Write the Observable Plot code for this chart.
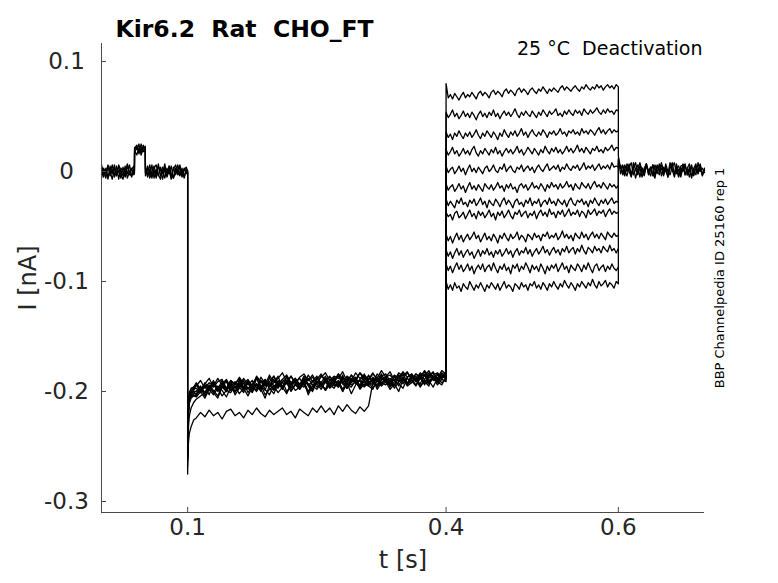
<!DOCTYPE html>
<html><head><meta charset="utf-8">
<script src="https://cdn.jsdelivr.net/npm/d3@7"></script>
<script src="https://cdn.jsdelivr.net/npm/@observablehq/plot@0.6"></script>
<style>body{margin:0;background:#fff}</style>
</head><body><div id="chart"></div>
<script>
// ---- data (times in ms, currents in pA) ----
const xTicks = [0.1, 0.4, 0.6];
const yTicks = [-0.3, -0.2, -0.1, 0, 0.1];
const xDomain = [0, 0.7];
const yDomain = [-0.31, 0.1164];

const preTimesMs = [0,2.5,5,7.5,10,12.5,15,17.5,20,22.5,25,27.5,30,32.5,35,37.5,
  38.2,38.4, 41,43.5,46,48.5, 50.8,51,
  53.5,56,58.5,61,63.5,66,68.5,71,73.5,76,78.5,81,83.5,86,88.5,91,93.5,96,98.5, 100];
const onsetTimesMs = [100, 100.3, 101, 102, 104, 107]; // capacitive onset of step 2
const step2Span = [110, 400];  // ms, sampled every 5 ms
const step3Span = [400, 600];  // ms, sampled every 2.5 ms
const postSpan = [600, 700];   // ms, sampled every 2.5 ms

// sweeps whose holding segments (before 0.1 s and after 0.6 s) are drawn
const holdSweeps = [0, 5, 7, 11];

const preValues = [
  [3,-5,2,-7,5,-2,6,-4,1,-6,4,-3,7,-1,-5,2, 0,21, 24,16,22,18, 21,-2, 5,-3,6,-6,2,-4,4,-2,7,-5,1,-7,4,-3,2,6,-4,3,-2, 0],
  [-3,2,-6,5,-1,6,-5,0,4,-3,-7,3,-2,6,-4,1, -1,19, 15,22,17,24, 18,3, -5,2,-6,3,6,-3,-7,4,0,-4,5,-2,-6,3,-3,5,-5,2,4, -1],
  [6,-2,3,-5,0,-7,3,-3,6,1,-4,5,-6,0,3,-3, 1,22, 20,25,15,21, 23,0, -2,6,-4,1,-6,4,2,-7,3,-3,5,-6,2,6,-1,-4,3,-6,2, 1],
  [-6,3,-2,6,-4,2,-3,5,-7,3,0,-5,6,-3,2,5, -2,17, 22,18,25,19, 18,-4, 3,-6,0,5,-3,7,-4,1,-6,3,-2,5,-6,0,6,-3,2,-5,3, -2]
];

const postValues = [
  [10,4,-3,6,0,7,-4,3,8,-2, 4,-5,3,7,-3,1,6,-4,5,0, 8,-3,3,-5,6,1,-2,7,-4,3, 0,6,-3,4,-6,3,7,-2,5,-3, 1],
  [12,-2,5,1,-4,4,8,-3,2,6, -5,3,0,7,-2,4,-4,6,1,-3, 7,0,4,-5,3,8,-2,2,-5,5, 6,-3,3,7,-4,0,5,-2,6,-4, 2],
  [8,5,0,-4,7,3,-2,4,-6,2, 8,0,-3,5,1,-4,6,3,-2,7, -4,4,0,-3,8,2,-5,3,5,-2, 7,-3,2,-5,4,1,-3,8,0,3, -1],
  [14,3,6,-2,4,0,-5,8,2,-3, 5,3,-4,7,0,4,-2,-6,6,1, 3,-4,7,0,-3,4,8,-2,2,-5, 4,7,-3,0,6,-4,3,1,7,-3, 3]
];

const onsetValues = [
  [-262,-234,-215,-206,-201,-199],
  [-258,-236,-218,-209,-205,-203],
  [-268,-246,-232,-222,-215,-210],
  [-255,-228,-210,-201,-197,-196],
  [-260,-233,-216,-207,-203,-200],
  [-275,-256,-246,-238,-232,-226],
  [-257,-230,-212,-203,-199,-198],
  [-263,-238,-220,-211,-206,-204],
  [-254,-229,-211,-202,-198,-196],
  [-259,-232,-214,-205,-201,-200],
  [-261,-236,-219,-208,-204,-202],
  [-256,-231,-213,-204,-200,-197]
];

const step2Values = [
  [-193,-201,-195,-203,-192,-198,-190,-199,-194,-201, -189,-197,-192,-200,-188,-195,-199,-187,-196,-191,
   -198,-186,-194,-190,-197,-187,-193,-199,-188,-192, -186,-196,-189,-194,-185,-197,-190,-187,-195,-184,
   -192,-188,-196,-185,-191,-194,-186,-190,-183,-193, -187,-191,-184,-194,-186,-182,-190,-185,-188],
  [-204,-197,-202,-195,-201,-206,-196,-200,-193,-203, -197,-192,-201,-195,-199,-190,-198,-203,-194,-197,
   -191,-200,-195,-189,-198,-193,-201,-190,-196,-193, -199,-189,-195,-192,-200,-188,-194,-191,-197,-190,
   -195,-198,-189,-194,-187,-196,-191,-193,-197,-188, -192,-186,-195,-190,-193,-187,-191,-194,-186],
  [-207,-204,-201,-197,-193,-200,-195,-191,-199,-196, -192,-198,-190,-196,-193,-199,-189,-195,-192,-186,
   -197,-191,-194,-188,-196,-190,-193,-198,-187,-194, -189,-195,-191,-186,-193,-197,-188,-192,-190,-195,
   -185,-191,-194,-187,-192,-189,-195,-186,-190,-193, -185,-191,-188,-184,-192,-186,-189,-183,-187],
  [-192,-198,-193,-188,-196,-191,-189,-197,-190,-194, -187,-193,-189,-196,-186,-191,-194,-185,-192,-188,
   -183,-191,-186,-193,-187,-184,-190,-185,-192,-187, -183,-190,-186,-188,-182,-191,-185,-189,-183,-187,
   -190,-184,-188,-181,-187,-185,-190,-183,-186,-182, -189,-184,-187,-181,-186,-183,-188,-181,-184],
  [-203,-196,-201,-194,-199,-204,-195,-198,-192,-200, -196,-201,-191,-198,-194,-200,-192,-197,-202,-193,
   -196,-190,-199,-193,-197,-189,-195,-200,-191,-194, -198,-189,-193,-196,-190,-197,-192,-188,-195,-191,
   -194,-188,-196,-190,-186,-193,-189,-195,-187,-192, -189,-194,-187,-191,-195,-186,-190,-188,-186],
  [-224,-219,-223,-217,-222,-219,-225,-218,-216,-222, -219,-224,-217,-221,-215,-220,-223,-217,-221,-218,
   -215,-221,-218,-224,-216,-219,-222,-215,-219,-213, -219,-215,-221,-213,-218,-212,-217,-220,-214,-218,
   -213,-192,-187,-193,-189,-195,-186,-191,-188,-194, -186,-190,-193,-185,-190,-187,-192,-185,-188],
  [-197,-201,-194,-199,-192,-198,-195,-190,-199,-193, -196,-190,-198,-193,-188,-197,-191,-195,-189,-196,
   -192,-187,-195,-190,-197,-189,-194,-191,-186,-195, -190,-193,-187,-196,-188,-192,-185,-193,-189,-186,
   -194,-187,-191,-184,-192,-188,-190,-185,-193,-187, -184,-191,-186,-189,-183,-190,-185,-188,-184],
  [-205,-200,-206,-198,-203,-197,-204,-199,-201,-195, -202,-197,-204,-196,-200,-194,-203,-198,-195,-201,
   -196,-202,-193,-199,-196,-191,-200,-195,-198,-192, -199,-194,-197,-191,-200,-193,-196,-190,-198,-193,
   -195,-189,-198,-192,-194,-190,-197,-191,-188,-195, -192,-189,-196,-190,-193,-187,-194,-189,-191],
  [-194,-199,-192,-197,-190,-198,-193,-189,-196,-191, -195,-188,-194,-190,-197,-187,-193,-191,-186,-195,
   -189,-193,-186,-192,-188,-194,-185,-191,-189,-184, -192,-187,-190,-184,-193,-186,-189,-191,-183,-190,
   -186,-192,-184,-189,-187,-182,-190,-185,-188,-183, -189,-184,-187,-182,-188,-185,-183,-187,-182],
  [-200,-195,-201,-196,-193,-199,-194,-200,-191,-197, -193,-198,-191,-196,-199,-190,-195,-192,-198,-190,
   -195,-191,-197,-189,-193,-196,-188,-194,-191,-196, -188,-193,-190,-195,-187,-194,-189,-192,-196,-188,
   -191,-194,-187,-192,-189,-195,-186,-191,-188,-193, -186,-190,-187,-192,-185,-189,-191,-186,-187],
  [-202,-197,-204,-196,-201,-195,-199,-205,-196,-200, -194,-199,-196,-201,-193,-198,-206,-194,-199,-193,
   -197,-192,-200,-194,-198,-191,-203,-195,-193,-198, -191,-197,-193,-190,-198,-192,-202,-194,-190,-196,
   -192,-197,-190,-195,-191,-198,-193,-200,-189,-194, -190,-195,-188,-193,-190,-196,-188,-192,-189],
  [-195,-190,-197,-192,-195,-188,-194,-198,-190,-193, -188,-196,-191,-194,-187,-192,-189,-195,-186,-193,
   -189,-185,-192,-188,-194,-186,-190,-187,-193,-185, -190,-186,-192,-184,-189,-187,-191,-183,-188,-185,
   -189,-183,-190,-186,-184,-191,-185,-188,-182,-187, -184,-189,-183,-186,-181,-188,-184,-186,-182]
];

const step3Values = [
  [-100,-107,-103,-108,-101,-106,-104,-109,-102,-105, -107,-100,-104,-108,-103,-106,-101,-105,-109,-103,
   -106,-101,-104,-107,-102,-108,-104,-100,-106,-103, -105,-109,-102,-104,-107,-101,-105,-103,-108,-102,
   -104,-100,-106,-103,-107,-101,-104,-108,-102,-105, -100,-104,-107,-102,-105,-99,-103,-106,-101,-104,
   -108,-102,-105,-100,-103,-106,-101,-104,-98,-103, -106,-100,-104,-102,-99,-105,-101,-103,-106,-100, -102],
  [-84,-90,-86,-92,-87,-83,-89,-85,-91,-88, -84,-90,-86,-93,-88,-85,-89,-84,-91,-87,
   -85,-90,-83,-88,-92,-86,-89,-84,-90,-87, -93,-85,-88,-84,-91,-86,-89,-83,-87,-92,
   -85,-89,-86,-91,-84,-88,-93,-86,-90,-85, -88,-84,-91,-87,-83,-89,-86,-92,-85,-88,
   -90,-84,-87,-91,-85,-89,-83,-88,-92,-86, -84,-90,-87,-85,-91,-86,-89,-84,-88,-90, -87],
  [-71,-77,-73,-79,-74,-70,-76,-72,-78,-74, -71,-76,-73,-79,-75,-71,-77,-72,-75,-70,
   -76,-73,-78,-72,-75,-71,-77,-74,-70,-75, -72,-78,-73,-70,-76,-72,-74,-69,-75,-71,
   -77,-73,-70,-75,-72,-68,-74,-71,-76,-72, -69,-74,-71,-76,-70,-73,-68,-74,-71,-69,
   -75,-70,-73,-67,-72,-75,-69,-71,-74,-68, -72,-70,-74,-68,-71,-73,-67,-72,-70,-74, -70],
  [-57,-63,-59,-65,-60,-56,-62,-58,-64,-60, -57,-62,-59,-55,-61,-58,-64,-60,-56,-62,
   -59,-63,-57,-60,-65,-58,-61,-56,-60,-63, -57,-61,-59,-55,-62,-58,-60,-64,-57,-59,
   -62,-56,-60,-58,-63,-57,-59,-55,-61,-58, -60,-56,-62,-59,-54,-60,-57,-61,-58,-63,
   -56,-59,-61,-55,-60,-57,-62,-58,-55,-60, -57,-61,-56,-59,-62,-55,-58,-60,-56,-59, -58],
  [-37,-41,-39,-44,-38,-36,-42,-40,-37,-43, -39,-35,-41,-38,-43,-36,-40,-37,-42,-39,
   -35,-41,-38,-44,-37,-40,-36,-42,-39,-35, -40,-43,-37,-39,-35,-41,-38,-36,-42,-38,
   -40,-36,-43,-38,-35,-40,-37,-41,-34,-39, -37,-42,-36,-39,-35,-41,-38,-34,-40,-37,
   -39,-35,-41,-36,-38,-42,-35,-39,-37,-34, -40,-36,-38,-35,-41,-37,-34,-39,-36,-38, -37],
  [-25,-31,-27,-30,-33,-26,-29,-24,-30,-28, -32,-26,-29,-25,-31,-28,-24,-30,-27,-33,
   -26,-29,-31,-25,-28,-32,-27,-24,-30,-26, -29,-33,-27,-25,-30,-28,-32,-26,-29,-24,
   -31,-27,-29,-25,-32,-28,-26,-30,-24,-29, -27,-31,-25,-28,-30,-26,-32,-27,-24,-29,
   -31,-26,-28,-25,-30,-27,-32,-26,-29,-24, -28,-31,-26,-29,-25,-30,-27,-24,-29,-27, -28],
  [-11,-17,-14,-12,-18,-15,-11,-16,-13,-19, -14,-10,-16,-13,-17,-12,-15,-18,-11,-14,
   -16,-12,-17,-14,-10,-15,-13,-18,-12,-15, -11,-16,-14,-19,-13,-11,-15,-12,-17,-14,
   -10,-15,-13,-16,-11,-14,-18,-12,-15,-10, -14,-12,-16,-11,-15,-13,-9,-14,-12,-17,
   -11,-14,-16,-10,-13,-15,-11,-16,-12,-9, -14,-12,-15,-10,-13,-16,-11,-14,-12,-15, -13],
  [5,-1,2,4,-2,1,5,0,3,-3, 2,6,0,3,-1,4,1,-2,3,5,
   0,2,6,1,-1,4,2,7,0,3, 5,1,-1,4,2,6,0,3,5,1,
   4,-1,3,6,2,0,4,7,1,3, 5,2,6,0,4,2,7,3,1,5,
   3,6,1,4,8,2,5,3,6,1, 4,7,2,5,3,6,2,8,4,5, 4],
  [20,15,18,22,16,19,14,17,21,16, 19,15,20,23,17,14,19,16,21,18,
   15,20,17,22,16,19,14,18,21,17, 20,16,19,23,17,20,15,18,22,19,
   16,21,18,15,20,17,23,19,16,21, 18,22,17,20,16,19,23,18,21,17,
   20,24,18,21,17,22,19,16,21,19, 23,18,20,17,22,19,21,24,19,22, 21],
  [36,31,34,29,35,32,37,33,30,35, 32,36,31,34,38,33,30,35,32,37,
   34,31,36,33,29,35,32,38,34,31, 36,33,37,32,35,39,33,36,31,35,
   38,34,32,36,33,38,35,31,36,34, 37,33,35,39,34,36,32,37,35,38,
   34,36,33,39,35,37,34,38,36,33, 37,40,35,38,34,37,39,35,38,36, 37],
  [54,49,52,56,50,53,48,51,55,50, 53,49,54,51,47,52,55,50,53,49,
   54,51,56,50,53,48,52,55,51,54, 50,53,57,52,49,54,51,55,52,50,
   55,52,49,54,51,56,53,50,55,52, 54,57,51,53,50,55,52,56,53,51,
   56,53,55,51,57,54,52,56,53,55, 58,54,52,56,53,57,54,55,52,56, 55],
  [80,67,70,66,71,68,65,69,72,67, 70,68,72,69,66,71,73,69,72,70,
   67,72,74,70,73,71,68,73,75,71, 74,72,69,74,76,72,75,73,70,74,
   76,73,71,75,73,77,74,71,75,73, 76,74,72,76,78,74,77,75,73,76,
   78,75,73,77,75,79,76,74,77,75, 79,76,78,74,77,79,76,78,75,79, 77]
];

// ---- build long table ----
const traces = [];
const push = (i, times, vals) => times.forEach((t, k) => traces.push({sweep: i, t: t / 1000, current: vals[k] / 1000}));
const gridFor = (span, vals) => vals.map((_, k) => span[0] + (span[1] - span[0]) * k / (vals.length - 1));
for (let i = 0; i < step2Values.length; i++) {
  const h = holdSweeps.indexOf(i);
  if (h >= 0) push(i, preTimesMs, preValues[h]);
  push(i, onsetTimesMs, onsetValues[i]);
  push(i, gridFor(step2Span, step2Values[i]), step2Values[i]);
  push(i, gridFor(step3Span, step3Values[i]), step3Values[i]);
  if (h >= 0) push(i, gridFor(postSpan, postValues[h]), postValues[h]);
}

const W = 778, H = 583, mL = 101, mR = 74, mT = 43, mB = 71;
const frameW = W - mL - mR, frameH = H - mT - mB;
const axisColor = "#4a4a4a", textColor = "#262626";
const nb = "\u00a0";

const chart = Plot.plot({
  width: W, height: H,
  marginLeft: mL, marginRight: mR, marginTop: mT, marginBottom: mB,
  x: {domain: xDomain, axis: null},
  y: {domain: yDomain, axis: null},
  style: {fontFamily: "DejaVu Sans", background: "#fff", overflow: "visible"},
  marks: [
    Plot.line(traces, {x: "t", y: "current", z: "sweep", stroke: "black", strokeWidth: 1.3}),
    Plot.ruleX([xDomain[0]], {stroke: axisColor, strokeWidth: 1}),
    Plot.ruleY([yDomain[0]], {stroke: axisColor, strokeWidth: 1}),
    Plot.tickX(xTicks, {x: d => d, insetTop: frameH - 5, stroke: axisColor}),
    Plot.tickY(yTicks, {y: d => d, insetRight: frameW - 5, stroke: axisColor}),
    Plot.text(xTicks, {x: d => d, text: d => String(d), frameAnchor: "bottom", dy: 22, fontSize: 23, fill: textColor}),
    Plot.text(yTicks, {y: d => d, text: d => String(d), frameAnchor: "left", dx: -35, textAnchor: "middle", fontSize: 23, fill: textColor}),
    Plot.text(["t [s]"], {text: d => d, frameAnchor: "bottom", dy: 55, fontSize: 24, fill: textColor}),
    Plot.text(["I [nA]"], {text: d => d, frameAnchor: "left", textAnchor: "middle", dx: -73, rotate: -90, fontSize: 24, fill: textColor}),
    Plot.text(["Kir6.2" + nb + nb + "Rat" + nb + nb + "CHO_FT"], {text: d => d, frameAnchor: "top-left", textAnchor: "start", dx: 14, dy: -23, fontSize: 23.5, fontWeight: "bold", fill: "black"}),
    Plot.text(["25 °C" + nb + nb + "Deactivation"], {text: d => d, frameAnchor: "top-right", textAnchor: "end", dx: -2, dy: -2, fontSize: 19, fill: "black"}),
    Plot.text(["BBP Channelpedia ID 25160 rep 1"], {text: d => d, frameAnchor: "right", textAnchor: "middle", dx: 15, rotate: -90, fontSize: 13, fill: "black"})
  ]
});
document.getElementById("chart").appendChild(chart);
</script></body></html>
